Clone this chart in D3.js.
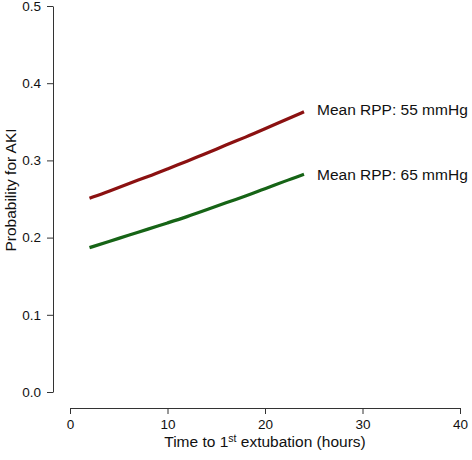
<!DOCTYPE html>
<html>
<head>
<meta charset="utf-8">
<script src="https://cdn.jsdelivr.net/npm/d3@7"></script>
<style>
  html, body { margin: 0; padding: 0; background: #fff; }
  svg { display: block; font-family: "Liberation Sans", Arial, sans-serif; }
</style>
</head>
<body>
<svg id="chart" width="472" height="460"></svg>
<script>
// Data
const hours = [2, 4, 6, 8, 10, 12, 14, 16, 18, 20, 22, 24];
const rpp55 = [0.251, 0.260, 0.270, 0.279, 0.289, 0.299, 0.309, 0.320, 0.330, 0.341, 0.352, 0.363];
const rpp65 = [0.187, 0.195, 0.203, 0.211, 0.219, 0.227, 0.236, 0.245, 0.254, 0.263, 0.273, 0.282];
const seriesNames = ["Mean RPP: 55 mmHg", "Mean RPP: 65 mmHg"];
const seriesColors = ["#8b1111", "#166416"];
const xTicks = [0, 10, 20, 30, 40];
const yTicks = [0.0, 0.1, 0.2, 0.3, 0.4, 0.5];

const svg = d3.select("#chart");
const x = d3.scaleLinear().domain([0, 40]).range([70, 460]);
const y = d3.scaleLinear().domain([0, 0.5]).range([392, 6]);

// Y axis
const yAxis = svg.append("g")
  .attr("transform", "translate(53,0)")
  .call(d3.axisLeft(y).tickValues(yTicks).tickFormat(d3.format(".1f")).tickSize(6).tickSizeOuter(0).tickPadding(6));
yAxis.select(".domain").attr("stroke", "#333");
yAxis.selectAll(".tick line").attr("stroke", "#333");
yAxis.selectAll(".tick text").attr("font-size", "13.5px").attr("fill", "#111")
  .attr("font-family", "Liberation Sans, Arial, sans-serif");

// X axis
const xAxis = svg.append("g")
  .attr("transform", "translate(0,408)")
  .call(d3.axisBottom(x).tickValues(xTicks).tickFormat(d3.format("d")).tickSize(6).tickSizeOuter(0).tickPadding(5));
xAxis.select(".domain").attr("stroke", "#333");
xAxis.selectAll(".tick line").attr("stroke", "#333");
xAxis.selectAll(".tick text").attr("font-size", "13.5px").attr("fill", "#111")
  .attr("font-family", "Liberation Sans, Arial, sans-serif");

// Axis titles
const xt = svg.append("text")
  .attr("x", x(20)).attr("y", 447)
  .attr("text-anchor", "middle")
  .attr("font-size", "15.5px").attr("fill", "#111");
xt.append("tspan").text("Time to 1");
xt.append("tspan").attr("font-size", "10.5px").attr("dy", "-5").text("st");
xt.append("tspan").attr("dy", "5").text(" extubation (hours)");

svg.append("text")
  .attr("transform", "translate(16,190) rotate(-90)")
  .attr("text-anchor", "middle")
  .attr("font-size", "15.5px").attr("fill", "#111")
  .text("Probability for AKI");

// Lines
const series = [rpp55, rpp65];
const line = d3.line().x((d, i) => x(hours[i])).y(d => y(d)).curve(d3.curveBasis);
series.forEach((vals, k) => {
  svg.append("path")
    .datum(vals)
    .attr("fill", "none")
    .attr("stroke", seriesColors[k])
    .attr("stroke-width", 3.2)
    .attr("stroke-linecap", "butt")
    .attr("d", line);
  svg.append("text")
    .attr("x", x(hours[hours.length - 1]) + 13)
    .attr("y", y(vals[vals.length - 1]) + (k === 0 ? -2 : 0))
    .attr("dy", "0.35em")
    .attr("font-size", "15.5px").attr("fill", "#111")
    .text(seriesNames[k]);
});
</script>
</body>
</html>
